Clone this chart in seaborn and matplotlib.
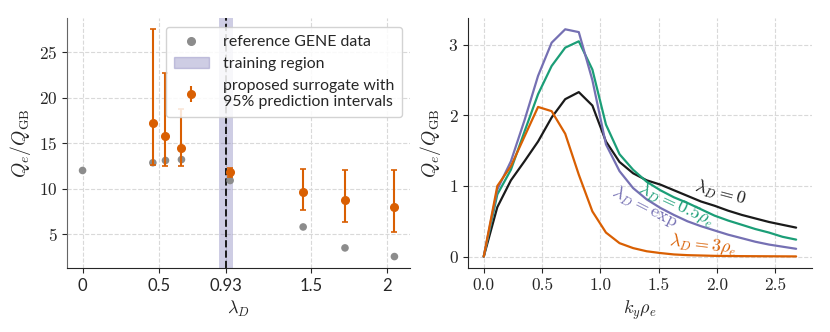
import numpy as np
import pandas as pd
import matplotlib
matplotlib.use("Agg")
import matplotlib.pyplot as plt
import seaborn as sns
from matplotlib.patches import Patch
from matplotlib.lines import Line2D

# ---------------- data: left panel ----------------
gene_lambda = [0.0, 0.462, 0.545, 0.65, 0.97, 1.45, 1.725, 2.05]
gene_q = [12.0, 12.85, 13.1, 13.2, 10.9, 5.8, 3.5, 2.55]

sur_lambda = [0.462, 0.545, 0.65, 0.97, 1.45, 1.725, 2.05]
sur_q = [17.2, 15.8, 14.45, 11.8, 9.6, 8.8, 8.0]
sur_lo = [12.55, 12.5, 12.45, 11.3, 7.7, 6.35, 5.2]
sur_hi = [27.5, 22.7, 18.7, 12.3, 12.15, 12.1, 12.05]

train_lo, train_hi = 0.90, 0.99
train_line = 0.94
xtick_pos = [0, 0.5, 0.94, 1.5, 2]
xtick_lab = ["0", "0.5", "0.93", "1.5", "2"]

# ---------------- data: right panel ----------------
ky = [0.0, 0.1165, 0.233, 0.3495, 0.466, 0.5825, 0.699, 0.8155, 0.932, 1.0485,
      1.165, 1.2815, 1.398, 1.5145, 1.631, 1.7475, 1.864, 1.98, 2.097, 2.214,
      2.33, 2.447, 2.563, 2.68]
q_l0 = [0.0, 0.70, 1.08, 1.35, 1.63, 1.97, 2.23, 2.33, 2.14, 1.63,
        1.34, 1.18, 1.08, 1.02, 0.94, 0.86, 0.78, 0.72, 0.65, 0.59,
        0.54, 0.49, 0.45, 0.41]
q_l05 = [0.0, 0.88, 1.23, 1.77, 2.30, 2.70, 2.96, 3.05, 2.65, 1.87,
         1.45, 1.23, 1.06, 0.94, 0.84, 0.76, 0.67, 0.58, 0.51, 0.45,
         0.39, 0.34, 0.28, 0.24]
q_lexp = [0.0, 0.95, 1.35, 1.93, 2.56, 3.03, 3.22, 3.18, 2.50, 1.59,
          1.21, 0.97, 0.81, 0.69, 0.59, 0.50, 0.43, 0.37, 0.31, 0.26,
          0.21, 0.17, 0.14, 0.11]
q_l3 = [0.0, 1.00, 1.28, 1.70, 2.12, 2.06, 1.74, 1.16, 0.64, 0.34,
        0.19, 0.12, 0.075, 0.05, 0.03, 0.02, 0.015, 0.01, 0.008, 0.006,
        0.005, 0.004, 0.003, 0.002]

ORANGE = "#d95f02"
GREEN = "#1b9e77"
PURPLE = "#7570b3"
BLACK = "#1a1a1a"
GRAY = "#8c8c8c"

sns.set_style("ticks")
plt.rcParams["mathtext.fontset"] = "cm"
plt.rcParams["font.family"] = ["cmr10", "DejaVu Serif"]
plt.rcParams["axes.formatter.use_mathtext"] = True
plt.rcParams["axes.unicode_minus"] = False

fig = plt.figure(figsize=(8.3, 3.32), dpi=100)
ax1 = fig.add_axes([0.0807, 0.193, 0.4133, 0.753])
ax2 = fig.add_axes([0.564, 0.193, 0.414, 0.753])

SANS = ["Lato", "DejaVu Sans"]

# ---------- left ----------
df_gene = pd.DataFrame({"lam": gene_lambda, "q": gene_q})
ax1.axvspan(train_lo, train_hi, color=PURPLE, alpha=0.35, lw=0, zorder=1)
ax1.axvline(train_line, color=BLACK, ls="--", lw=1.4, zorder=2)
sns.scatterplot(data=df_gene, x="lam", y="q", ax=ax1, color=GRAY, s=30,
                edgecolor="none", zorder=3, legend=False)
yerr = [np.array(sur_q) - np.array(sur_lo), np.array(sur_hi) - np.array(sur_q)]
ax1.errorbar(sur_lambda, sur_q, yerr=yerr, fmt="o", color=ORANGE, ms=5.5,
             lw=1.5, capsize=2, capthick=1.2, zorder=4)
ax1.set_xticks(xtick_pos)
ax1.set_xticklabels(xtick_lab, fontfamily=SANS, fontsize=12)
ax1.set_yticks([5, 10, 15, 20, 25])
ax1.tick_params(axis="y", labelsize=12.5)
ax1.set_xlabel(r"$\lambda_D$", fontsize=13)
ax1.set_ylabel(r"$Q_e/Q_{\mathrm{GB}}$", fontsize=14)
ax1.grid(True, ls="--", color="#d9d9d9", lw=0.8)
ax1.set_axisbelow(True)
sns.despine(ax=ax1)
ax1.spines["left"].set_color("#666666")

h_gene = Line2D([], [], marker="o", ls="none", color=GRAY, ms=5.5)
h_train = Patch(facecolor=PURPLE, alpha=0.35, edgecolor=PURPLE)
h_sur = ax1.errorbar([], [], yerr=[], fmt="o", color=ORANGE, ms=5.5, lw=1.5,
                     capsize=2)
leg = ax1.legend([h_gene, h_train, h_sur],
                 ["reference GENE data", "training region",
                  "proposed surrogate with\n95% prediction intervals"],
                 loc="upper right", bbox_to_anchor=(1.0, 0.995),
                 prop={"family": SANS, "size": 11.4}, framealpha=0.85,
                 edgecolor="#cccccc", handlelength=2.2, borderpad=0.5,
                 labelspacing=0.5, handletextpad=0.9)
leg.set_zorder(10)

# ---------- right ----------
df = pd.DataFrame({
    "ky": ky * 4,
    "q": q_l0 + q_l05 + q_lexp + q_l3,
    "case": ["l0"] * len(ky) + ["l05"] * len(ky) + ["lexp"] * len(ky) + ["l3"] * len(ky),
})
pal = {"l0": BLACK, "l05": GREEN, "lexp": PURPLE, "l3": ORANGE}
sns.lineplot(data=df, x="ky", y="q", hue="case", palette=pal, ax=ax2,
             lw=1.6, legend=False)
ax2.set_xticks([0, 0.5, 1.0, 1.5, 2.0, 2.5])
ax2.set_xticklabels(["0.0", "0.5", "1.0", "1.5", "2.0", "2.5"])
ax2.set_yticks([0, 1, 2, 3])
ax2.tick_params(labelsize=12.5)
ax2.set_xlabel(r"$k_y\rho_e$", fontsize=13)
ax2.set_ylabel(r"$Q_e/Q_{\mathrm{GB}}$", fontsize=14)
ax2.grid(True, ls="--", color="#d9d9d9", lw=0.8)
ax2.set_axisbelow(True)
sns.despine(ax=ax2)

ax2.text(2.03, 0.90, r"$\lambda_D = 0$", color=BLACK, fontsize=13,
         rotation=-15, ha="center", va="center")
ax2.text(1.65, 0.74, r"$\lambda_D = 0.5\rho_e$", color=GREEN, fontsize=13,
         rotation=-25, ha="center", va="center")
ax2.text(1.38, 0.70, r"$\lambda_D = \exp$", color=PURPLE, fontsize=13,
         rotation=-27, ha="center", va="center")
ax2.text(1.88, 0.17, r"$\lambda_D = 3\rho_e$", color=ORANGE, fontsize=13,
         rotation=-7, ha="center", va="center")

fig.savefig("out.png", dpi=100)
